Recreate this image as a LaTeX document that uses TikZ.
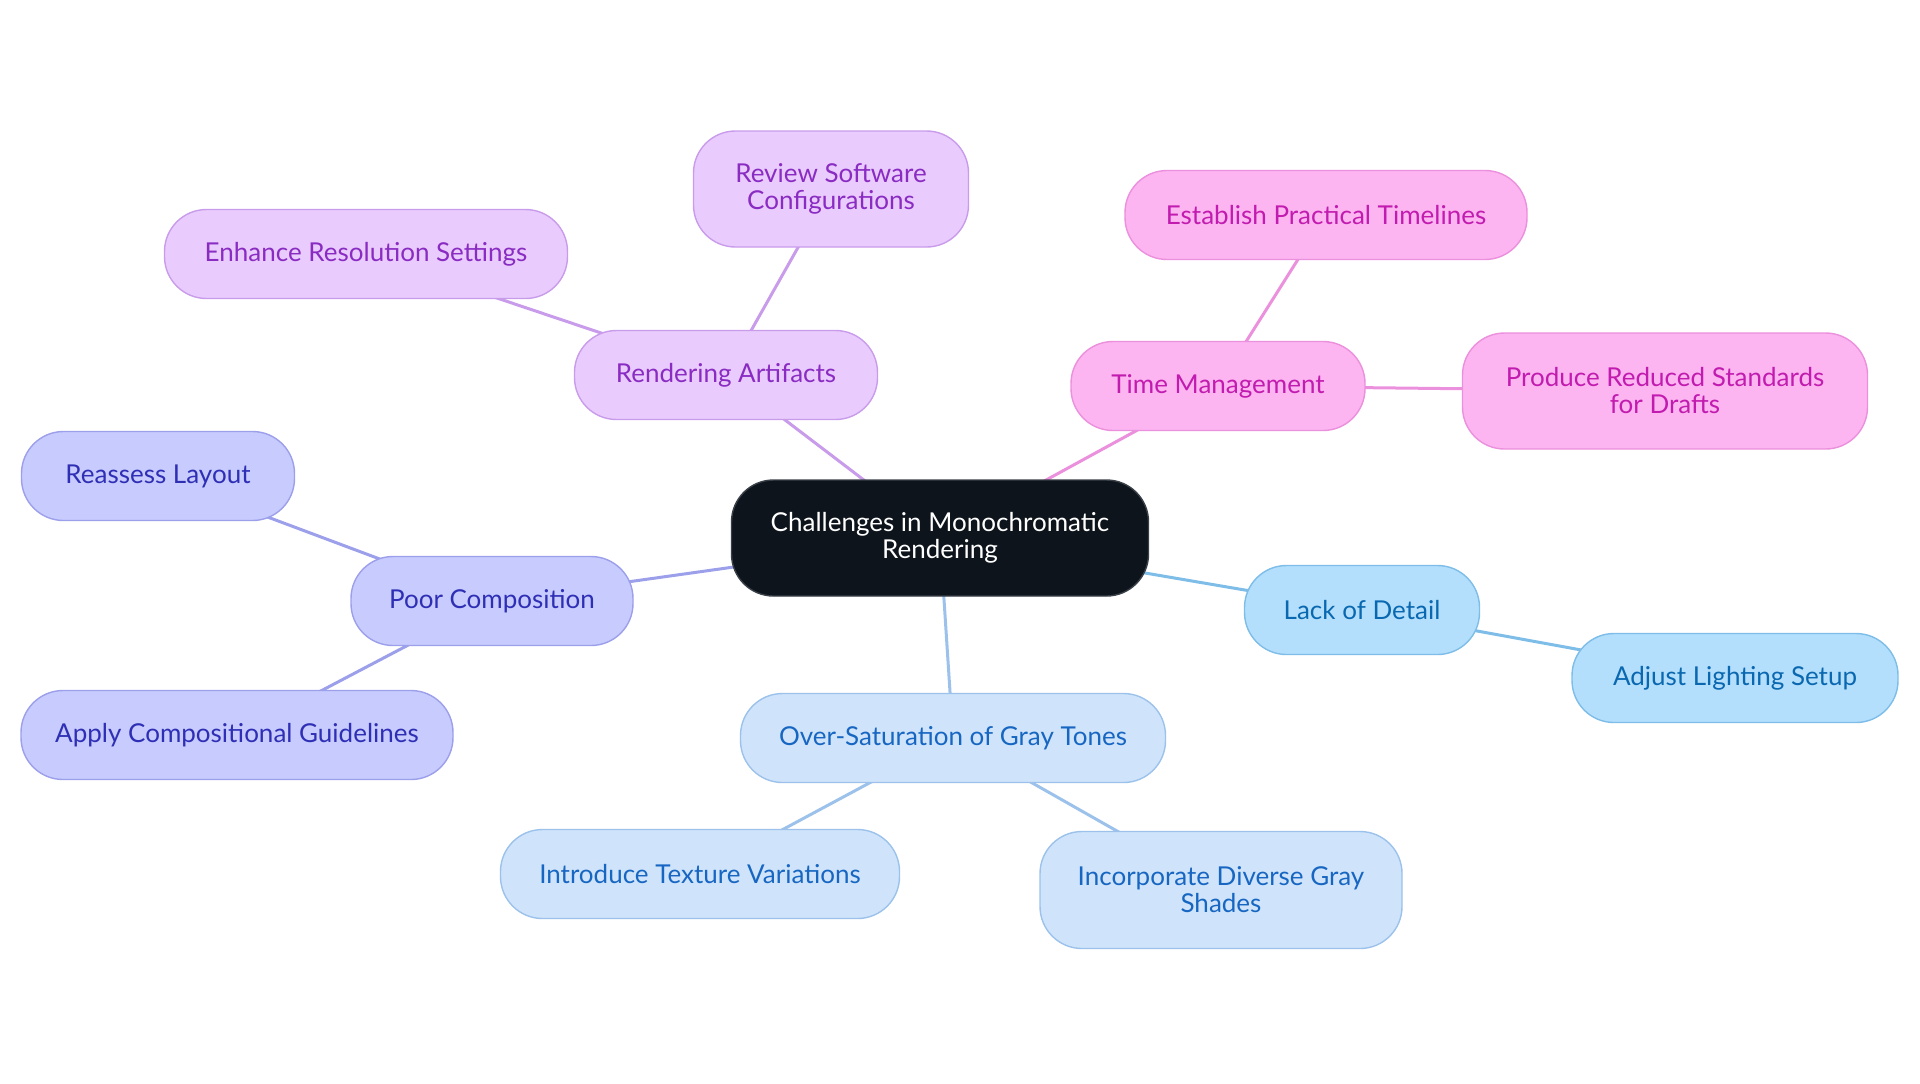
\documentclass[tikz,border=0pt]{standalone}
\usepackage{fontspec}
\setmainfont{Lato}
\usetikzlibrary{backgrounds}

\definecolor{rootfill}{HTML}{0D141B}
\definecolor{rootline}{HTML}{3A4048}
\definecolor{artfill}{HTML}{E9CCFD}
\definecolor{artline}{HTML}{C99CEB}
\definecolor{arttext}{HTML}{8A2BC2}
\definecolor{timefill}{HTML}{FCB5F1}
\definecolor{timeline}{HTML}{EB90DC}
\definecolor{timetext}{HTML}{C21BAF}
\definecolor{compfill}{HTML}{C7CBFD}
\definecolor{compline}{HTML}{9C9FEA}
\definecolor{comptext}{HTML}{2F2FB5}
\definecolor{detfill}{HTML}{B3DFFD}
\definecolor{detline}{HTML}{7DBDE8}
\definecolor{dettext}{HTML}{0A68B0}
\definecolor{grayfill}{HTML}{CFE4FB}
\definecolor{grayline}{HTML}{9CC2EB}
\definecolor{graytext}{HTML}{1766C2}

\begin{document}
\begin{tikzpicture}[x=0.5pt, y=-0.5pt,
    box/.style = {draw, rounded corners=21pt, line width=0.7pt, align=center,
                  inner sep=0pt, minimum height=44.5pt,
                  font=\fontsize{13}{13.5}\selectfont},
    root/.style = {box, fill=rootfill, draw=rootline, text=white},
    art/.style  = {box, fill=artfill, draw=artline, text=arttext},
    time/.style = {box, fill=timefill, draw=timeline, text=timetext},
    comp/.style = {box, fill=compfill, draw=compline, text=comptext},
    det/.style  = {box, fill=detfill, draw=detline, text=dettext},
    gray/.style = {box, fill=grayfill, draw=grayline, text=graytext},
    link/.style = {line width=1.5pt}]
    \useasboundingbox (0,0) rectangle (1920,1083);

    % middle
    \node [root, minimum width=208.5pt, minimum height=58pt] (root) at (940,538) {Challenges in Monochromatic\\Rendering};

    % rendering artifacts
    \node [art, minimum width=151.5pt] (artifacts) at (726,375) {Rendering Artifacts};
    \node [art, minimum width=137.5pt, minimum height=58pt] (software) at (831,189) {Review Software\\Configurations};
    \node [art, minimum width=201.5pt] (resolution) at (366,254) {Enhance Resolution Settings};

    % time management
    \node [time, minimum width=147pt] (timemgmt) at (1218,386) {Time Management};
    \node [time, minimum width=201pt] (timelines) at (1326,215) {Establish Practical Timelines};
    \node [time, minimum width=202.5pt, minimum height=58pt] (drafts) at (1665,391) {Produce Reduced Standards\\for Drafts};

    % poor composition
    \node [comp, minimum width=141pt] (composition) at (492,601) {Poor Composition};
    \node [comp, minimum width=136.5pt] (layout) at (158,476) {Reassess Layout};
    \node [comp, minimum width=216pt] (guidelines) at (237,735) {Apply Compositional Guidelines};

    % lack of detail
    \node [det, minimum width=117.5pt] (detail) at (1362,610) {Lack of Detail};
    \node [det, minimum width=163pt] (lighting) at (1735,678) {Adjust Lighting Setup};

    % gray tones
    \node [gray, minimum width=212.5pt] (saturation) at (953,738) {Over-Saturation of Gray Tones};
    \node [gray, minimum width=199.5pt] (texture) at (700,874) {Introduce Texture Variations};
    \node [gray, minimum width=181pt, minimum height=58.5pt] (shades) at (1221,890) {Incorporate Diverse Gray\\Shades};

    \begin{scope}[on background layer]
        \draw [link, artline] (root.center) -- (artifacts.center);
        \draw [link, artline] (artifacts.center) -- (software.center);
        \draw [link, artline] (artifacts.center) -- (resolution.center);
        \draw [link, timeline] (root.center) -- (timemgmt.center);
        \draw [link, timeline] (timemgmt.center) -- (timelines.center);
        \draw [link, timeline] (timemgmt.center) -- (drafts.center);
        \draw [link, compline] (root.center) -- (composition.center);
        \draw [link, compline] (composition.center) -- (layout.center);
        \draw [link, compline] (composition.center) -- (guidelines.center);
        \draw [link, detline] (root.center) -- (detail.center);
        \draw [link, detline] (detail.center) -- (lighting.center);
        \draw [link, grayline] (root.center) -- (saturation.center);
        \draw [link, grayline] (saturation.center) -- (texture.center);
        \draw [link, grayline] (saturation.center) -- (shades.center);
    \end{scope}
\end{tikzpicture}
\end{document}
